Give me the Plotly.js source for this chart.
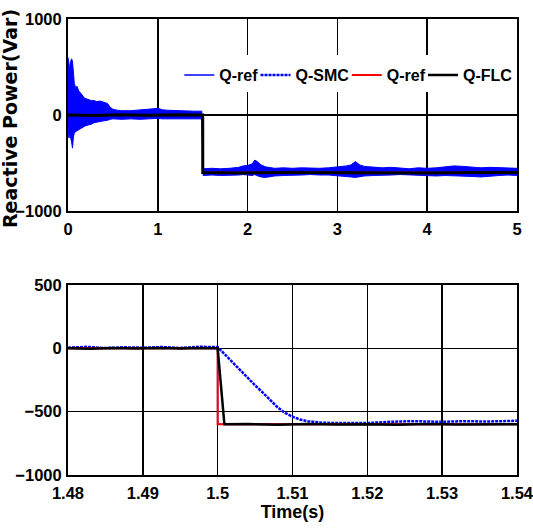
<!DOCTYPE html>
<html>
<head>
<meta charset="utf-8">
<script src="https://cdn.plot.ly/plotly-3.0.1.min.js"></script>
<style>html,body{margin:0;padding:0;background:#fff;}#chart{width:533px;height:531px;}</style>
</head>
<body>
<div id="chart"></div>
<script>
// ---------- Top panel (0 - 5 s) ----------
const refTime = [0, 1.5, 1.5, 5];
const refValue = [0, 0, -600, -600];

const flcTopTime = [0, 0.3, 0.6, 0.9, 1.2, 1.5, 1.5009, 2, 2.5, 3, 3.5, 4, 4.5, 5];
const flcTopValue = [0, -5, 3, -2, 4, 0, -600, -603, -598, -602, -600, -604, -598, -600];

// envelope of the (dense, noisy) Q-SMC signal
const smcEnvTime = [0, 0.01, 0.02, 0.03, 0.04, 0.05, 0.06, 0.07, 0.08, 0.09, 0.1, 0.12, 0.14, 0.16, 0.18, 0.2,
  0.23, 0.26, 0.29, 0.32, 0.36, 0.4, 0.44, 0.47, 0.5, 0.55, 0.6, 0.7, 0.8, 0.9, 0.95, 1.0, 1.05, 1.1, 1.2, 1.3,
  1.4, 1.49, 1.505, 1.6, 1.7, 1.8, 1.9, 1.95, 2.0, 2.05, 2.08, 2.1, 2.12, 2.15, 2.2, 2.25, 2.3, 2.4, 2.5, 2.6,
  2.7, 2.8, 2.9, 3.0, 3.05, 3.1, 3.15, 3.2, 3.25, 3.3, 3.4, 3.5, 3.6, 3.7, 3.8, 3.9, 4.0, 4.1, 4.2, 4.3, 4.4,
  4.5, 4.6, 4.7, 4.8, 4.9, 5.0];
const smcEnvUpper = [600, 520, 480, 560, 585, 560, 380, 330, 300, 280, 300, 250, 230, 200, 180, 170,
  160, 150, 150, 140, 145, 130, 120, 80, 60, 50, 45, 45, 50, 55, 65, 70, 55, 50, 45, 45,
  40, 40, -560, -555, -560, -555, -545, -530, -525, -510, -470, -480, -500, -520, -540, -550, -555, -550, -555, -550,
  -555, -555, -550, -545, -535, -530, -520, -485, -520, -535, -545, -550, -545, -555, -560, -550, -555, -550, -540, -530, -535,
  -540, -550, -545, -550, -550, -555];
const smcEnvLower = [-100, -240, -200, -220, -280, -345, -230, -190, -180, -170, -160, -150, -140, -130, -120, -110,
  -100, -95, -80, -70, -65, -60, -55, -45, -40, -40, -45, -40, -45, -40, -40, -35, -40, -45, -40, -45,
  -40, -40, -630, -625, -630, -630, -625, -620, -625, -630, -620, -630, -640, -645, -650, -640, -635, -630, -625, -625,
  -620, -625, -625, -630, -635, -640, -645, -650, -640, -635, -630, -625, -625, -620, -625, -630, -630, -635, -630, -630, -635,
  -640, -645, -635, -630, -625, -630];

// ---------- Bottom panel (1.48 - 1.54 s) ----------
const zoomRefTime = [1.48, 1.5, 1.5, 1.54];
const zoomRefValue = [0, 0, -600, -600];

const smcZoomTime = [1.48, 1.4825, 1.485, 1.4875, 1.49, 1.4925, 1.495, 1.4975, 1.5, 1.501, 1.502, 1.503, 1.504,
  1.505, 1.506, 1.507, 1.508, 1.509, 1.510, 1.511, 1.512, 1.513, 1.514, 1.516, 1.518, 1.52, 1.523, 1.526, 1.53,
  1.533, 1.536, 1.54];
const smcZoomValue = [5, 12, 2, 8, 5, 10, 3, 12, 10, -52, -110, -170, -232, -292, -348, -410, -465, -510, -540,
  -562, -575, -582, -587, -590, -588, -590, -580, -575, -580, -575, -578, -572];

const flcZoomTime = [1.48, 1.483, 1.486, 1.489, 1.492, 1.495, 1.498, 1.5, 1.5009, 1.504, 1.508, 1.512, 1.516,
  1.52, 1.524, 1.528, 1.532, 1.536, 1.54];
const flcZoomValue = [0, -3, 2, -2, 3, -2, 2, 0, -600, -598, -603, -598, -602, -599, -603, -597, -601, -598, -600];

// ---------- Ticks ----------
const topXTicks = [0, 1, 2, 3, 4, 5];
const topYTicks = [-1000, 0, 1000];
const botXTicks = [1.48, 1.49, 1.5, 1.51, 1.52, 1.53, 1.54];
const botXLabels = ['1.48', '1.49', '1.5', '1.51', '1.52', '1.53', '1.54'];
const botYTicks = [-1000, -500, 0, 500];

const sans = 'Liberation Sans, Arial, sans-serif';
const tickFont = {family: sans, size: 16.5, weight: 'bold', color: '#000'};
const legendFont = {family: sans, size: 16, weight: 'bold', color: '#000'};
const BLUE = '#0000ff', RED = '#ff0000', BLACK = '#000000';

const smcPolyX = smcEnvTime.concat(smcEnvTime.slice().reverse());
const smcPolyY = smcEnvUpper.concat(smcEnvLower.slice().reverse());

const traces = [
  {x: refTime, y: refValue, xaxis: 'x', yaxis: 'y', mode: 'lines', name: 'Q-ref',
   line: {color: BLUE, width: 1.5}, legend: 'legend', showlegend: true},
  {x: smcPolyX, y: smcPolyY, xaxis: 'x', yaxis: 'y', mode: 'lines', fill: 'toself', fillcolor: BLUE,
   line: {color: BLUE, width: 1}, showlegend: false, name: 'Q-SMC', hoverinfo: 'skip'},
  {x: refTime, y: refValue, xaxis: 'x', yaxis: 'y', mode: 'lines', name: 'Q-ref',
   line: {color: RED, width: 1.5}, showlegend: false},
  {x: flcTopTime, y: flcTopValue, xaxis: 'x', yaxis: 'y', mode: 'lines', name: 'Q-FLC',
   line: {color: BLACK, width: 3}, showlegend: false},

  {x: zoomRefTime, y: zoomRefValue, xaxis: 'x2', yaxis: 'y2', mode: 'lines', name: 'Q-ref',
   line: {color: BLUE, width: 1.5}, showlegend: false},
  {x: smcZoomTime, y: smcZoomValue, xaxis: 'x2', yaxis: 'y2', mode: 'lines', name: 'Q-SMC',
   line: {color: BLUE, width: 2.5, dash: '3px,1px'}, legend: 'legend2', showlegend: true},
  {x: zoomRefTime, y: zoomRefValue, xaxis: 'x2', yaxis: 'y2', mode: 'lines', name: 'Q-ref',
   line: {color: RED, width: 2}, legend: 'legend3', showlegend: true},
  {x: flcZoomTime, y: flcZoomValue, xaxis: 'x2', yaxis: 'y2', mode: 'lines', name: 'Q-FLC',
   line: {color: BLACK, width: 2.5}, legend: 'legend4', showlegend: true}
];

const axisCommon = {
  showline: true, mirror: true, linecolor: '#000', linewidth: 2,
  showgrid: true, gridcolor: '#000', gridwidth: 1.5, zeroline: false,
  ticks: '', tickfont: tickFont, fixedrange: true, ticklabeloverflow: 'allow', automargin: false
};

function legendAt(x) {
  return {orientation: 'h', x: x, xanchor: 'left', y: 0.877, yanchor: 'middle',
          bgcolor: 'rgba(0,0,0,0)', borderwidth: 0, font: legendFont};
}

const layout = {
  width: 533, height: 531,
  margin: {l: 68, r: 16, t: 19, b: 56, pad: 0},
  paper_bgcolor: '#fff', plot_bgcolor: '#fff',
  showlegend: true,
  legend: legendAt(0.2479),
  legend2: legendAt(0.4176),
  legend3: legendAt(0.6209),
  legend4: legendAt(0.7906),
  shapes: [{type: 'rect', xref: 'paper', yref: 'paper', x0: 0.2517, x1: 0.997, y0: 0.8399, y1: 0.9211,
            fillcolor: '#fff', line: {width: 0}, layer: 'above'}],
  annotations: [{text: 'Reactive Power(Var)', textangle: -90, xref: 'paper', yref: 'paper',
                 x: -0.128, y: 0.7818, xanchor: 'center', yanchor: 'middle', showarrow: false,
                 font: {family: 'DejaVu Sans, sans-serif', size: 19, weight: 'bold', color: '#000'}}],
  xaxis: Object.assign({}, axisCommon, {
    domain: [0, 1], anchor: 'y', range: [0, 5.00001], tickvals: topXTicks, ticklabelstandoff: 2
  }),
  yaxis: Object.assign({}, axisCommon, {
    domain: [0.5789, 1], anchor: 'x', range: [-1000.01, 1000.01], tickvals: topYTicks, ticklabelstandoff: 1
  }),
  xaxis2: Object.assign({}, axisCommon, {
    domain: [0, 1], anchor: 'y2', range: [1.48, 1.540001], tickvals: botXTicks, ticktext: botXLabels,
    ticklabelstandoff: 2,
    title: {text: 'Time(s)', standoff: 2,
            font: {family: sans, size: 18, weight: 'bold', color: '#000'}}
  }),
  yaxis2: Object.assign({}, axisCommon, {
    domain: [0, 0.4167], anchor: 'x2', range: [-1000.01, 500.01], tickvals: botYTicks, ticklabelstandoff: 1
  })
};

Plotly.newPlot('chart', traces, layout, {displayModeBar: false, staticPlot: true});
</script>
</body>
</html>
